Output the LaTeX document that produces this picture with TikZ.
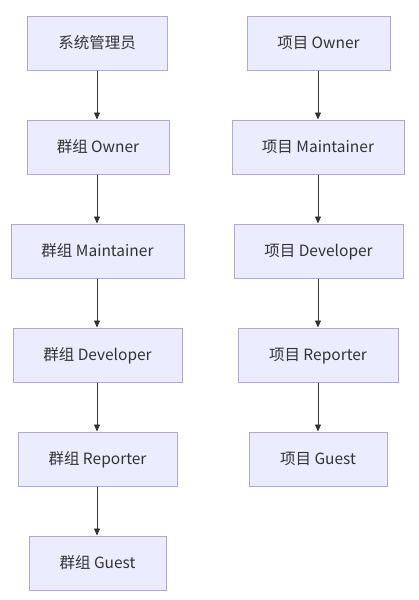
\documentclass[tikz,border=0pt]{standalone}
\usepackage{fontspec}
\setmainfont{Noto Sans CJK SC}
\usetikzlibrary{arrows.meta}
\definecolor{boxfill}{HTML}{ECECFF}
\definecolor{boxline}{HTML}{B4A4E4}
\definecolor{txt}{HTML}{333333}
\tikzset{
  role/.style={draw=boxline, fill=boxfill, line width=1pt, minimum height=54pt,
    text=txt, font=\fontsize{15.5}{18}\selectfont, inner sep=0pt,
    text height=12pt, text depth=2pt},
  link/.style={draw=txt, line width=0.9pt, -{Triangle[length=7pt,width=6pt]}}
}
\begin{document}
\begin{tikzpicture}[x=1pt,y=-1pt]
\useasboundingbox (0,0) rectangle (419,600);
\node[role, minimum width=140pt] (g0) at (97,43) {系统管理员};
\node[role, minimum width=142pt] (g1) at (98,147) {群组 Owner};
\node[role, minimum width=173pt] (g2) at (97.5,251) {群组 Maintainer};
\node[role, minimum width=169pt] (g3) at (97.5,355) {群组 Developer};
\node[role, minimum width=159pt] (g4) at (97.5,459) {群组 Reporter};
\node[role, minimum width=137pt] (g5) at (97.5,563) {群组 Guest};
\node[role, minimum width=143pt] (p1) at (318.5,43) {项目 Owner};
\node[role, minimum width=172pt] (p2) at (318,147) {项目 Maintainer};
\node[role, minimum width=169pt] (p3) at (318.5,251) {项目 Developer};
\node[role, minimum width=160pt] (p4) at (318,355) {项目 Reporter};
\node[role, minimum width=138pt] (p5) at (318,459) {项目 Guest};
\draw[link] (g0.south -| 97,0) -- (g1.north -| 97,0);
\draw[link] (g1.south -| 97,0) -- (g2.north -| 97,0);
\draw[link] (g2.south -| 97,0) -- (g3.north -| 97,0);
\draw[link] (g3.south -| 97,0) -- (g4.north -| 97,0);
\draw[link] (g4.south -| 97,0) -- (g5.north -| 97,0);
\draw[link] (p1.south -| 318,0) -- (p2.north -| 318,0);
\draw[link] (p2.south -| 318,0) -- (p3.north -| 318,0);
\draw[link] (p3.south -| 318,0) -- (p4.north -| 318,0);
\draw[link] (p4.south -| 318,0) -- (p5.north -| 318,0);
\end{tikzpicture}
\end{document}
